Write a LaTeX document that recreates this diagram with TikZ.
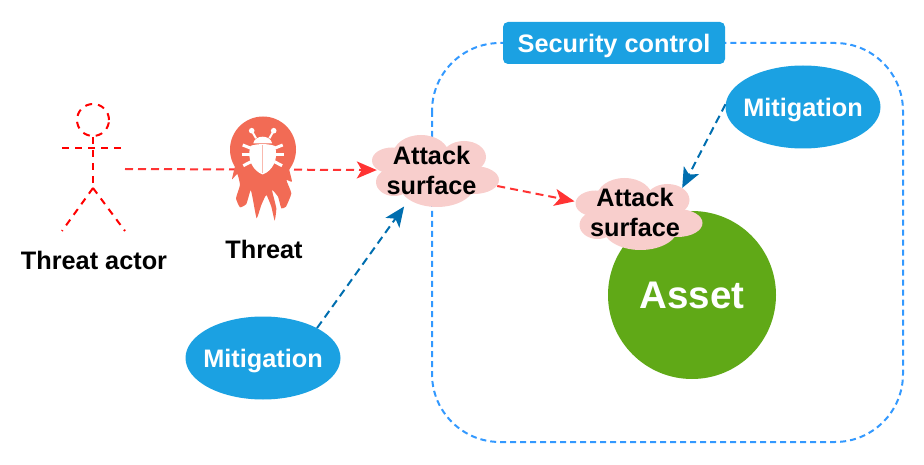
\documentclass[tikz,border=0pt]{standalone}
\usepackage{fontspec}
\setmainfont{Liberation Sans}
\usetikzlibrary{arrows.meta,shapes.geometric}
\definecolor{actorred}{HTML}{FF0000}
\definecolor{linkred}{HTML}{FF3333}
\definecolor{linkblue}{HTML}{006EAF}
\definecolor{mitblue}{HTML}{1BA1E2}
\definecolor{boxblue}{HTML}{3399FF}
\definecolor{assetgreen}{HTML}{60A917}
\definecolor{cloudpink}{HTML}{F8CECC}
\definecolor{threatred}{HTML}{F26B55}
\definecolor{bugline}{HTML}{F9B9AE}
\tikzset{
  lbl/.style={font=\bfseries\fontsize{25.3}{30}\selectfont,align=center,inner sep=0pt},
  mitnode/.style={ellipse,fill=mitblue,text=white,lbl,text depth=0pt,inner xsep=-10pt,minimum width=155pt,minimum height=83pt},
  surfnode/.style={ellipse,lbl,inner xsep=-10pt,inner ysep=-10pt,minimum width=126pt,minimum height=72pt},
  linktip/.style={-{Stealth[length=20pt,width=17pt,inset=5pt]}},
  redlink/.style={draw=linkred,line width=2pt,dash pattern=on 8pt off 5pt,linktip},
  bluelink/.style={draw=linkblue,line width=2pt,dash pattern=on 8pt off 5pt,linktip},
  actorline/.style={draw=actorred,line width=2pt,dash pattern=on 7pt off 6pt},
  surfcloud/.pic={
    \fill[cloudpink] (0,0) ellipse [x radius=45pt,y radius=22pt];
    \fill[cloudpink] (-42,-9.5) ellipse [x radius=20pt,y radius=13pt];
    \fill[cloudpink] (-13,-15) ellipse [x radius=28pt,y radius=20pt];
    \fill[cloudpink] (30,-13) ellipse [x radius=22pt,y radius=16pt];
    \fill[cloudpink] (40,10) ellipse [x radius=25pt,y radius=14pt];
    \fill[cloudpink] (3,14) ellipse [x radius=38pt,y radius=23pt];
    \fill[cloudpink] (-40,12) ellipse [x radius=18pt,y radius=14pt];
  }
}
\begin{document}
\begin{tikzpicture}[x=1pt,y=-1pt]
  \useasboundingbox (0,0) rectangle (924,465);
  % security zone
  \draw[boxblue,line width=2pt,dash pattern=on 6pt off 4pt,rounded corners=68pt] (432,43) rectangle (903,442);
  \node[fill=mitblue,text=white,rounded corners=5pt,lbl,text depth=0pt,minimum width=222pt,minimum height=42pt] (control) at (614,43) {Security control};
  \node[circle,fill=assetgreen,text=white,minimum size=168pt,inner sep=0pt,font=\bfseries\fontsize{38.5}{44}\selectfont] (asset) at (692,295) {Asset};
  % attack surfaces
  \pic at (434,170) {surfcloud};
  \node[surfnode] (surfOut) at (431.5,170) {Attack\\surface};
  \pic at (637.5,213) {surfcloud};
  \node[surfnode] (surfIn) at (635,212) {Attack\\surface};
  % actor
  \node[circle,actorline,minimum size=32pt,inner sep=0pt] (head) at (93,120) {};
  \coordinate (hip) at (93,188);
  \coordinate (armL) at (62,148);
  \coordinate (armR) at (125,148);
  \coordinate (footL) at (62,231);
  \coordinate (footR) at (125,231);
  \coordinate (actorOut) at (125,169);
  \draw[actorline] (head.south) -- (hip);
  \draw[actorline] (armL) -- (armR);
  \draw[actorline] (hip) -- (footL);
  \draw[actorline] (hip) -- (footR);
  \node[lbl] (actorName) at (94,260) {Threat actor};
  % links
  \draw[redlink,shorten >=-8.5pt] (actorOut) -- (surfOut.west);
  \draw[redlink,shorten <=8pt] (surfOut.-14) -- (surfIn.170);
  % threat icon
  \begin{scope}[shift={(228,160)},x=0.3333pt,y=-0.3333pt]
    \fill[threatred] plot[smooth,tension=0.25] coordinates {(22,15) (12,58) (28,42) (36,75) (24,115) (36,142) (55,132) (68,90) (75,120) (86,175) (100,135) (115,105) (130,140) (140,182) (145,145) (132,90) (150,110) (160,145) (174,140) (190,100) (175,60) (192,65) (180,15)} -- cycle;
  \end{scope}
  \node[circle,fill=threatred,minimum size=66pt,inner sep=0pt] (threat) at (263,149.5) {};
  \draw[white,line width=2pt] (251.7,130.7) -- (256,138.3);
  \draw[white,line width=2pt] (273.7,130.7) -- (269.4,138.3);
  \fill[white] (251.7,130.7) circle (2.8pt);
  \fill[white] (273.7,130.7) circle (2.8pt);
  \draw[white,line width=3pt] (242.7,145) -- (251,148.3);
  \draw[white,line width=3pt] (241.7,155) -- (251,155);
  \draw[white,line width=3pt] (243.3,165.7) -- (251,161.7);
  \draw[white,line width=3pt] (282.7,145) -- (274.4,148.3);
  \draw[white,line width=3pt] (283.7,155) -- (274.4,155);
  \draw[white,line width=3pt] (282.1,165.7) -- (274.4,161.7);
  \fill[white] (253.3,143.3) .. controls (255,134.5) and (270.4,134.5) .. (272.1,143.3) -- cycle;
  \fill[white] (250.5,146) .. controls (256,143.5) and (269.4,143.5) .. (274.9,146) .. controls (279,160) and (272,171) .. (262.7,174.5) .. controls (253.4,171) and (246.4,160) .. (250.5,146) -- cycle;
  \draw[bugline,line width=1.5pt] (262.7,145) -- (262.7,173);
  \node[lbl] (threatName) at (264,249) {Threat};
  % mitigations
  \node[mitnode] (mitLow) at (263,358) {Mitigation};
  \node[mitnode] (mitHigh) at (803,107) {Mitigation};
  \draw[bluelink,shorten >=4pt] (mitLow.29) -- (surfOut.233);
  \draw[bluelink] (mitHigh.178) -- (surfIn.27);
\end{tikzpicture}
\end{document}
